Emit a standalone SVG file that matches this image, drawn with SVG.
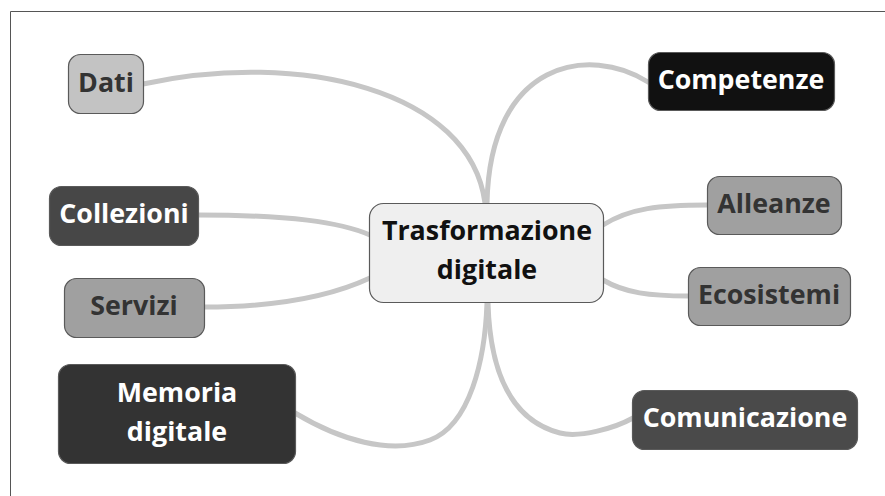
<svg xmlns="http://www.w3.org/2000/svg" width="885" height="496" viewBox="0 0 885 496">
<style>
.bg{fill:#ffffff}
.frame{fill:none;stroke:#555555;stroke-width:1}
.conn{fill:none;stroke:#c6c6c6;stroke-width:5;stroke-linecap:round}
.box{stroke:#5a5a5a;stroke-width:1.2}
text{font-family:"Open Sans","Noto Sans","DejaVu Sans",sans-serif;font-weight:bold;font-size:26.8px;text-anchor:middle}
.dk{fill:#333333}
.wt{fill:#ffffff}
.ct{fill:#111111;font-size:26.8px}
</style>
<rect class="bg" x="0" y="0" width="885" height="496"/>
<path class="frame" d="M10.5,496 V11.5 H885"/>
<g id="connectors">
<path class="conn" d="M143,84 C300,50 470,90 485,203"/>
<path class="conn" d="M487,203 C490,60 590,45 648,82"/>
<path class="conn" d="M198,215 C290,215 340,222 370,235"/>
<path class="conn" d="M204,307 C290,307 340,292 370,278"/>
<path class="conn" d="M295,413 C340,440 390,455 430,440 C470,425 485,360 487,303"/>
<path class="conn" d="M488,303 C490,370 510,420 560,433 C580,438 615,428 633,418"/>
<path class="conn" d="M603,225 C630,208 660,205 707,205"/>
<path class="conn" d="M603,280 C625,293 650,296 688,296"/>
</g>
<g id="n-center">
<rect class="box" x="369.5" y="203.5" width="234" height="99" rx="14" fill="#efefef"/>
<text class="ct" x="487" y="240">Trasformazione</text>
<text class="ct" x="487" y="279">digitale</text>
</g>
<g id="n-dati">
<rect class="box" x="68.5" y="54.5" width="75" height="59" rx="12" fill="#c3c3c3"/>
<text class="dk" x="106" y="92">Dati</text>
</g>
<g id="n-collezioni">
<rect class="box" x="49.5" y="186.5" width="149" height="59" rx="12" fill="#474747"/>
<text class="wt" x="124" y="223">Collezioni</text>
</g>
<g id="n-servizi">
<rect class="box" x="64.5" y="278.5" width="140" height="59" rx="12" fill="#a0a0a0"/>
<text class="dk" x="134" y="315">Servizi</text>
</g>
<g id="n-memoria">
<rect class="box" x="58.5" y="364.5" width="237" height="99" rx="12" fill="#333333"/>
<text class="wt" x="177" y="402">Memoria</text>
<text class="wt" x="177" y="441">digitale</text>
</g>
<g id="n-competenze">
<rect class="box" x="648.5" y="52.5" width="186" height="58" rx="12" fill="#111111"/>
<text class="wt" x="741" y="89">Competenze</text>
</g>
<g id="n-alleanze">
<rect class="box" x="707.5" y="176.5" width="134" height="58" rx="12" fill="#a0a0a0"/>
<text class="dk" x="774" y="213">Alleanze</text>
</g>
<g id="n-ecosistemi">
<rect class="box" x="688.5" y="267.5" width="162" height="58" rx="12" fill="#a0a0a0"/>
<text class="dk" x="769" y="304">Ecosistemi</text>
</g>
<g id="n-comunicazione">
<rect class="box" x="632.5" y="390.5" width="225" height="59" rx="12" fill="#4a4a4a"/>
<text class="wt" x="745" y="427">Comunicazione</text>
</g>
</svg>
